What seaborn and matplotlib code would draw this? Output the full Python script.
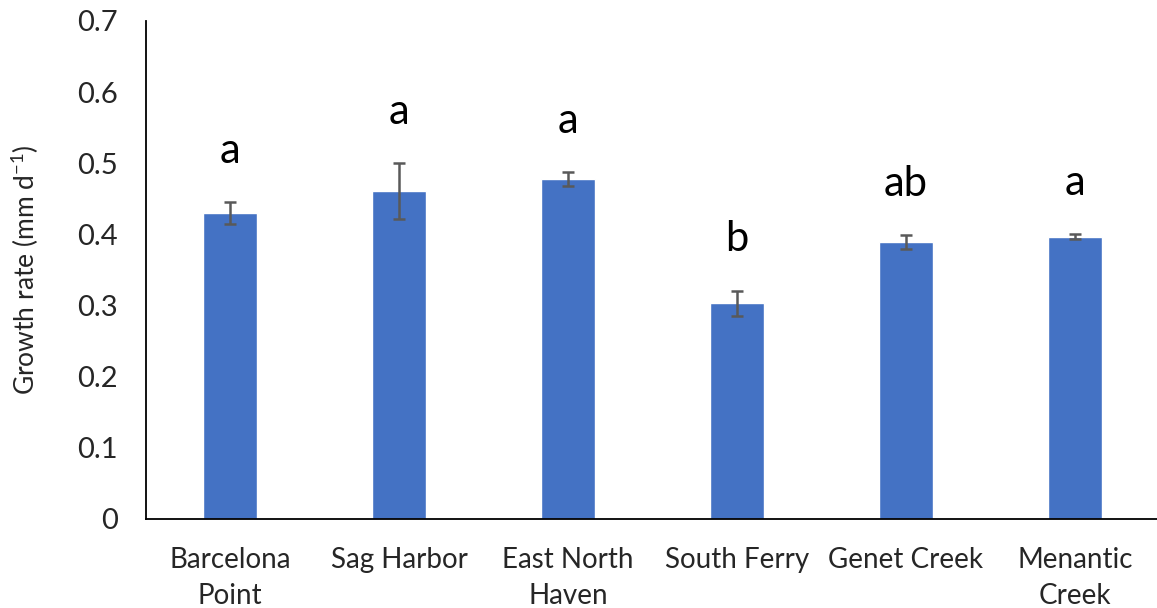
import matplotlib
matplotlib.use("Agg")
import matplotlib.pyplot as plt
import seaborn as sns
import numpy as np

sites = ["Barcelona\nPoint", "Sag Harbor", "East North\nHaven", "South Ferry", "Genet Creek", "Menantic\nCreek"]
rates = [0.430, 0.461, 0.478, 0.303, 0.389, 0.397]
errors = [0.015, 0.039, 0.010, 0.018, 0.010, 0.003]
letters = ["a", "a", "a", "b", "ab", "a"]
yticks = [0, 0.1, 0.2, 0.3, 0.4, 0.5, 0.6, 0.7]
ytick_labels = ["0", "0.1", "0.2", "0.3", "0.4", "0.5", "0.6", "0.7"]

sns.set_style("white")
plt.rcParams["font.family"] = ["Lato", "DejaVu Sans"]

fig = plt.figure(figsize=(11.57, 6.08), dpi=100)
ax = fig.add_axes([0.126, 0.1464, 0.876, 0.8191])

sns.barplot(x=sites, y=rates, color="#4472C4", width=0.32, saturation=1, ax=ax)
ax.errorbar(np.arange(len(sites)), rates, yerr=errors, fmt="none",
            ecolor="#595959", elinewidth=1.8, capsize=4, capthick=1.8)

for i, (r, e, l) in enumerate(zip(rates, errors, letters)):
    ax.text(i, r + e + 0.055, l, ha="center", va="baseline", fontsize=30, color="black")

ax.set_ylim(0, 0.7)
ax.set_xlim(-0.5, 5.5)
ax.set_yticks(yticks)
ax.set_yticklabels(ytick_labels, fontsize=21)
ax.set_xticks(np.arange(len(sites)))
ax.set_xticklabels(sites, fontsize=20, linespacing=1.5)
ax.set_xticks(np.arange(-0.5, len(sites), 1.0), minor=True)
ax.tick_params(axis="x", which="major", length=0, pad=20)
ax.tick_params(axis="x", which="minor", length=8, width=1.3, color="black", direction="out")
ax.tick_params(axis="y", length=8, width=1.3, color="black", direction="out", pad=12)
ax.set_ylabel("Growth rate (mm d$^{\\mathregular{-1}}$)", fontsize=19, labelpad=26)
ax.set_xlabel("")

for s in ["top", "right"]:
    ax.spines[s].set_visible(False)
for s in ["left", "bottom"]:
    ax.spines[s].set_color("black")
    ax.spines[s].set_linewidth(1.3)

fig.savefig("out.png", dpi=100)
